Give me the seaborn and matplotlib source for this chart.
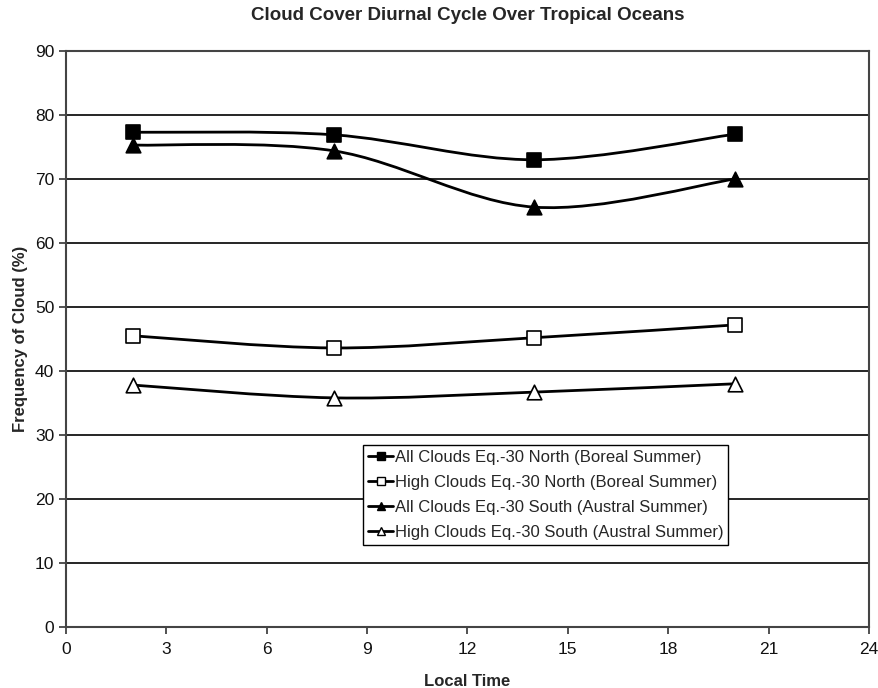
import numpy as np
import seaborn as sns
import matplotlib.pyplot as plt
from matplotlib.path import Path
from matplotlib.patches import PathPatch
from matplotlib.lines import Line2D

hours = [2, 8, 14, 20]
all_north = [77.3, 76.9, 73.0, 77.0]
high_north = [45.5, 43.6, 45.2, 47.2]
all_south = [75.3, 74.4, 65.6, 70.0]
high_south = [37.8, 35.8, 36.7, 38.0]

labels = [
    "All Clouds Eq.-30 North (Boreal Summer)",
    "High Clouds Eq.-30 North (Boreal Summer)",
    "All Clouds Eq.-30 South (Austral Summer)",
    "High Clouds Eq.-30 South (Austral Summer)",
]
series = [all_north, high_north, all_south, high_south]
markers = ["s", "s", "^", "^"]
faces = ["black", "white", "black", "white"]

sns.set_theme(style="white")
plt.rcParams["font.family"] = ["Liberation Sans", "DejaVu Sans"]


def smooth_path(xs, ys):
    # excel-like smoothed line: catmull-rom as cubic bezier segments
    pts = np.column_stack([xs, ys]).astype(float)
    ext = np.vstack([pts[0], pts, pts[-1]])
    verts = [pts[0]]
    codes = [Path.MOVETO]
    for i in range(1, len(ext) - 2):
        p0, p1, p2, p3 = ext[i - 1], ext[i], ext[i + 1], ext[i + 2]
        verts += [p1 + (p2 - p0) / 6, p2 - (p3 - p1) / 6, p2]
        codes += [Path.CURVE4] * 3
    return Path(verts, codes)


fig = plt.figure(figsize=(8.79, 6.88), dpi=100)
ax = fig.add_axes([0.0751, 0.0887, 0.9135, 0.8372])

handles = []
for vals, lab, m, fc in zip(series, labels, markers, faces):
    ax.add_patch(PathPatch(smooth_path(hours, vals), fill=False,
                           edgecolor="black", lw=2, zorder=3))
    sns.scatterplot(x=hours, y=vals, marker=m, s=110, color=fc,
                    edgecolor="black", linewidth=1.2, ax=ax, zorder=4)
    handles.append(Line2D([], [], color="black", lw=2, marker=m, markersize=6,
                          markerfacecolor=fc, markeredgecolor="black"))

ax.set_xlim(0, 24)
ax.set_ylim(0, 90)
ax.set_xticks(range(0, 25, 3))
ax.set_yticks(range(0, 91, 10))
ax.yaxis.grid(True, color="black", lw=1.2)
ax.set_axisbelow(True)
for sp in ax.spines.values():
    sp.set_color("#444444")
    sp.set_linewidth(1.5)
ax.tick_params(axis="both", direction="out", length=5, width=1.2,
               color="#333333", labelcolor="#111111", labelsize=12.5,
               bottom=True, left=True)
ax.tick_params(axis="x", pad=6)

ax.set_xlabel("Local Time", fontsize=12, fontweight="bold", labelpad=12)
ax.set_ylabel("Frequency of Cloud (%)", fontsize=12, fontweight="bold", labelpad=5)
ax.set_title("Cloud Cover Diurnal Cycle Over Tropical Oceans",
             fontsize=13.5, fontweight="bold", pad=22)

leg = ax.legend(handles, labels, loc="lower left", bbox_to_anchor=(0.37, 0.142),
                fontsize=12, frameon=True, fancybox=False, framealpha=1,
                handlelength=1.5, handletextpad=0.1, borderpad=0.3,
                labelspacing=0.6, borderaxespad=0)
leg.get_frame().set_edgecolor("black")
leg.get_frame().set_linewidth(1)

fig.savefig("out.png", dpi=100)
